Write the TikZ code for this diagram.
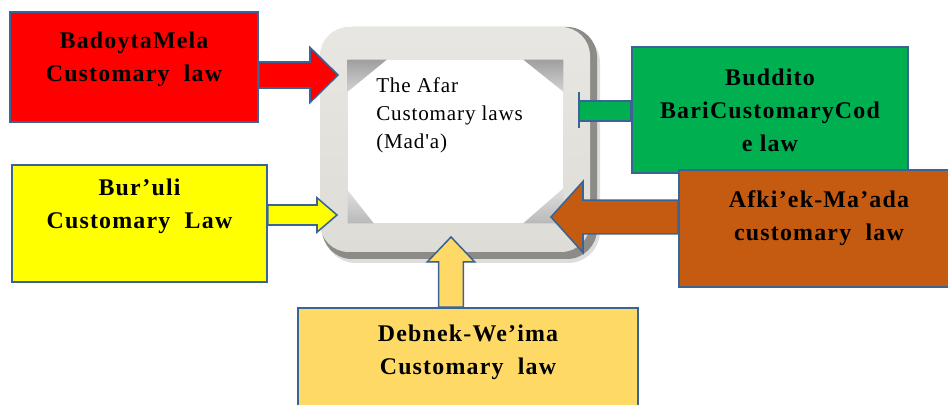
\documentclass[tikz,border=0pt]{standalone}
\usepackage{fontspec}
\setmainfont{Liberation Serif}
\newfontfamily\lawfont[LetterSpace=5, Ligatures=TeX]{Liberation Serif}
\newfontfamily\madafont[LetterSpace=4]{Liberation Serif}
\usetikzlibrary{calc}

\definecolor{lawred}{HTML}{FF0000}
\definecolor{lawyellow}{HTML}{FFFF00}
\definecolor{lawgreen}{HTML}{00B050}
\definecolor{lawbrown}{HTML}{C55A11}
\definecolor{lawgold}{HTML}{FFD966}
\definecolor{edgeblue}{HTML}{3A6496}
\definecolor{framelight}{HTML}{DEDCD6}
\definecolor{framedark}{HTML}{8C8B87}

\tikzset{
  lawbox/.style={draw=edgeblue, line width=1.1pt, rectangle, inner sep=0pt},
  lawtext/.style={font=\lawfont\bfseries\fontsize{17}{23.5}\selectfont, align=center, text=black},
  arrowline/.style={draw=edgeblue, line width=1.1pt},
  centretext/.style={font=\madafont\fontsize{15}{20}\selectfont, align=left, inner sep=0pt}
}

% block arrow: fill, from, to, shaft half width, head half width, head length
\newcommand{\blockarrow}[6]{%
  \coordinate (ba-base) at ($(#3)!#6!(#2)$);
  \filldraw[arrowline, fill=#1] ($(#2)!#4!90:(#3)$) -- ($(ba-base)!#4!-90:(#2)$)
    -- ($(ba-base)!#5!-90:(#2)$) -- (#3) -- ($(ba-base)!#5!90:(#2)$)
    -- ($(ba-base)!#4!90:(#2)$) -- ($(#2)!#4!-90:(#3)$) -- cycle;
}

\begin{document}
\begin{tikzpicture}[x=0.025cm, y=-0.025cm]
  \useasboundingbox (0,0) rectangle (948,405);
  \clip (0,0) rectangle (948,405);

  % the frame
  \fill[gray!45, opacity=.6, rounded corners=0.8cm] (324,31) rectangle (600,263);
  \fill[framedark, rounded corners=0.75cm] (322,27) rectangle (597,259);
  \shade[top color=framelight!70!white, bottom color=framelight, rounded corners=0.72cm] (320,27) rectangle (590,252);
  \node[fill=white, minimum width=5.375cm, minimum height=4.075cm, inner sep=0pt] (mada) at (455.5,141.5) {};
  \shade[top color=gray!75, bottom color=gray!35] (mada.north west) -- ++(39,0) -- ++(-39,32) -- cycle;
  \shade[top color=gray!75, bottom color=gray!35] (mada.north east) -- ++(-40,0) -- ++(40,32) -- cycle;
  \shade[top color=gray!25, bottom color=gray!55] (mada.south west) -- ++(0,-33) -- ++(26,33) -- cycle;
  \shade[top color=gray!25, bottom color=gray!55] (mada.south east) -- ++(0,-35) -- ++(-40,35) -- cycle;
  \node[centretext, anchor=north west] (mada-txt) at (376,77) {The Afar\\Customary laws\\(Mad'a)};

  % the customary laws
  \node[lawbox, fill=lawred, minimum width=6.2cm, minimum height=2.75cm] (badoyta) at (134,67) {};
  \node[lawtext] (badoyta-txt) at ([yshift=0.2cm]badoyta.center) {BadoytaMela\\Customary\ \ law};
  \node[lawbox, fill=lawyellow, minimum width=6.375cm, minimum height=2.925cm] (buruli) at (139.5,223.5) {};
  \node[lawtext] (buruli-txt) at ([yshift=0.44cm]buruli.center) {Bur'uli\\Customary\ \ Law};
  \node[lawbox, fill=lawgreen, minimum width=6.9cm, minimum height=3.15cm] (buddito) at (770,110) {};
  \node[lawtext] (buddito-txt) at (buddito.center) {Buddito\\BariCustomaryCod\\e law};
  \node[lawbox, fill=lawbrown, minimum width=7cm, minimum height=2.925cm] (afkiek) at (819,228.5) {};
  \node[lawtext] (afkiek-txt) at ([yshift=0.27cm]afkiek.center) {Afki'ek-Ma'ada\\customary\ \ law};
  \node[lawbox, fill=lawgold, minimum width=8.5cm, minimum height=2.9cm] (debnek) at (468,366) {};
  \node[lawtext] (debnek-txt) at ([yshift=0.35cm]debnek.center) {Debnek-We'ima\\Customary\ \ law};

  % arrows into the frame
  \coordinate (redtip) at (338,75);
  \coordinate (yellowtip) at (337,215);
  \coordinate (browntip) at (551,217);
  \coordinate (goldtip) at (451,237);
  \coordinate (greenend) at (579,111);
  \blockarrow{lawred}{badoyta.east |- redtip}{redtip}{0.325cm}{0.69cm}{0.7cm}
  \blockarrow{lawyellow}{buruli.east |- yellowtip}{yellowtip}{0.25cm}{0.43cm}{0.5cm}
  \blockarrow{lawbrown}{afkiek.west |- browntip}{browntip}{0.42cm}{0.89cm}{0.8cm}
  \blockarrow{lawgold}{debnek.north -| goldtip}{goldtip}{0.31cm}{0.59cm}{0.62cm}
  \filldraw[arrowline, fill=lawgreen] ($(greenend)+(0,-10)$) rectangle ($(buddito.west |- greenend)+(0,10)$);
  \draw[arrowline] ($(greenend)+(0,-19)$) -- ($(greenend)+(0,17)$);
\end{tikzpicture}
\end{document}
